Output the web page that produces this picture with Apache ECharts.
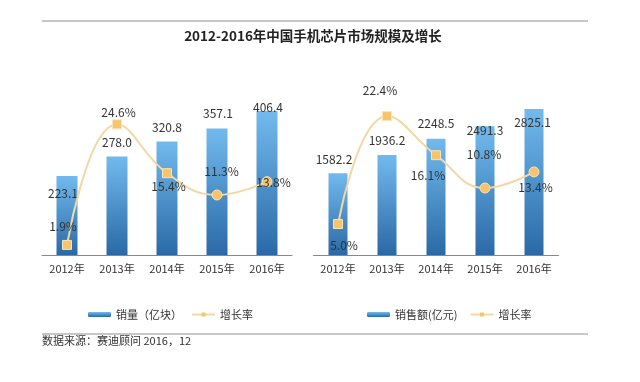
<!DOCTYPE html>
<html>
<head>
<meta charset="utf-8">
<script src="https://cdn.jsdelivr.net/npm/echarts@6/dist/echarts.min.js"></script>
<style>
html,body{margin:0;padding:0;background:#fff;}
#chart{width:640px;height:382px;}
</style>
</head>
<body>
<div id="chart"></div>
<script>
const titleText = '2012-2016年中国手机芯片市场规模及增长';
const sourceText = '数据来源：赛迪顾问 2016，12';
const categories = ['2012年', '2013年', '2014年', '2015年', '2016年'];
const volumeName = '销量（亿块）';
const volume = [223.1, 278.0, 320.8, 357.1, 406.4];
const volumeGrowth = [1.9, 24.6, 15.4, 11.3, 13.8];
const revenueName = '销售额(亿元)';
const revenue = [1582.2, 1936.2, 2248.5, 2491.3, 2825.1];
const revenueGrowth = [5.0, 22.4, 16.1, 10.8, 13.4];
const growthName = '增长率';

const FONT = '"Noto Sans CJK SC", "Noto Sans", sans-serif';
const barGradient = new echarts.graphic.LinearGradient(0, 0, 0, 1, [
  { offset: 0, color: '#72baee' },
  { offset: 1, color: '#2a69a6' }
]);
const lineColor = '#f1d8a4';
const markerColor = '#f6c46c';
const shapes = ['rect', 'rect', 'rect', 'circle', 'circle'];

function barData(values, offs) {
  return values.map((v, i) => ({
    value: v,
    label: { position: ['50%', offs[i][1]], offset: [offs[i][0], 0] }
  }));
}
function lineData(values, offs) {
  return values.map((v, i) => ({
    value: v,
    symbol: shapes[i],
    symbolSize: shapes[i] === 'rect' ? 9 : 10,
    label: { offset: offs[i] }
  }));
}

const barLabel = {
  show: true, color: '#333', fontSize: 12, fontFamily: FONT,
  align: 'center', verticalAlign: 'middle',
  formatter: p => p.value.toFixed(1)
};
const lineLabel = {
  show: true, position: 'inside', color: '#333', fontSize: 12, fontFamily: FONT,
  formatter: p => p.value.toFixed(1) + '%'
};

const xAxisCommon = {
  type: 'category',
  data: categories,
  axisLine: { lineStyle: { color: '#7d8b98', width: 1 } },
  axisTick: { show: false },
  axisLabel: { color: '#333', fontSize: 11, fontFamily: FONT, margin: 8 }
};
const yHidden = { type: 'value', min: 0, show: false, splitLine: { show: false } };

const chart = echarts.init(document.getElementById('chart'));
chart.setOption({
  animation: false,
  backgroundColor: '#fff',
  graphic: [
    { type: 'line', shape: { x1: 42, y1: 21, x2: 588, y2: 21 }, style: { stroke: '#b5b5b5', lineWidth: 1.5 } },
    { type: 'line', shape: { x1: 42, y1: 334, x2: 588, y2: 334 }, style: { stroke: '#b5b5b5', lineWidth: 1.5 } },
    { type: 'text', x: 313, y: 36, style: { text: titleText, fill: '#222', font: 'bold 13.5px ' + FONT, textAlign: 'center', textVerticalAlign: 'middle' } },
    { type: 'text', x: 42, y: 341, style: { text: sourceText, fill: '#333', font: '11px ' + FONT, textAlign: 'left', textVerticalAlign: 'middle' } }
  ],
  legend: [
    {
      left: 83, top: 304, itemWidth: 23, itemHeight: 5, itemGap: 9,
      textStyle: { color: '#333', fontSize: 11, fontFamily: FONT },
      data: [volumeName, { name: growthName, itemStyle: { borderWidth: 0 } }]
    },
    {
      left: 362, top: 304, itemWidth: 23, itemHeight: 5, itemGap: 12,
      textStyle: { color: '#333', fontSize: 11, fontFamily: FONT },
      data: [revenueName, { name: growthName, itemStyle: { borderWidth: 0 } }]
    }
  ],
  grid: [
    { left: 42, width: 250, top: 42.5, height: 212.5 },
    { left: 313.5, width: 245, top: 38, height: 217 }
  ],
  xAxis: [
    Object.assign({ gridIndex: 0 }, xAxisCommon),
    Object.assign({ gridIndex: 1 }, xAxisCommon)
  ],
  yAxis: [
    Object.assign({ gridIndex: 0, max: 600 }, yHidden),
    Object.assign({ gridIndex: 0, max: 40 }, yHidden),
    Object.assign({ gridIndex: 1, max: 4200 }, yHidden),
    Object.assign({ gridIndex: 1, max: 35 }, yHidden)
  ],
  series: [
    {
      name: volumeName, type: 'bar', xAxisIndex: 0, yAxisIndex: 0,
      barWidth: 21, itemStyle: { color: barGradient }, label: barLabel,
      data: barData(volume, [[-4, 17], [0, -14.6], [0, -14.4], [1, -14.6], [1, -3.3]])
    },
    {
      name: growthName, type: 'line', xAxisIndex: 0, yAxisIndex: 1,
      smooth: 0.45, symbol: 'rect', symbolSize: 9,
      lineStyle: { color: lineColor, width: 2 },
      itemStyle: { color: markerColor, borderColor: '#fbe3b6', borderWidth: 1 },
      label: lineLabel,
      data: lineData(volumeGrowth, [[-4, -18], [1.5, -11.6], [1.5, 13.6], [4.5, -24], [6.5, 1]]),
      z: 5
    },
    {
      name: revenueName, type: 'bar', xAxisIndex: 1, yAxisIndex: 2,
      barWidth: 19, itemStyle: { color: barGradient }, label: barLabel,
      data: barData(revenue, [[-4, -13.7], [0, -14.7], [0, -15.2], [0, 4.1], [-1.5, 13.1]])
    },
    {
      name: growthName, type: 'line', xAxisIndex: 1, yAxisIndex: 3,
      smooth: 0.45, symbol: 'rect', symbolSize: 9,
      lineStyle: { color: lineColor, width: 2 },
      itemStyle: { color: markerColor, borderColor: '#fbe3b6', borderWidth: 1 },
      label: lineLabel,
      data: lineData(revenueGrowth, [[6, 21], [-7, -25.4], [-8, 20], [-1, -34], [1.5, 16]]),
      z: 5
    }
  ]
});
</script>
</body>
</html>
